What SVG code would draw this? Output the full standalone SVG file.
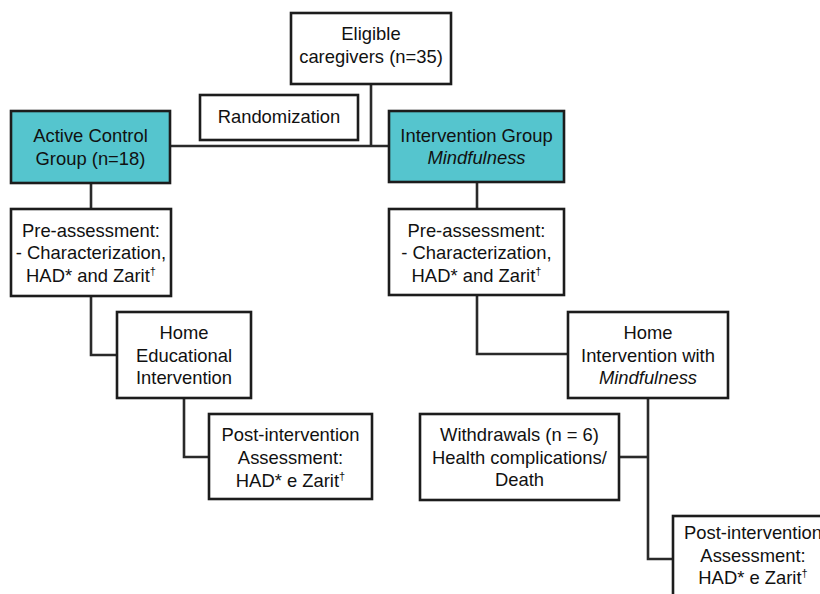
<svg xmlns="http://www.w3.org/2000/svg" width="820" height="594" viewBox="0 0 820 594">
<style>
.box{fill:#fff;stroke:#1c1c1c;stroke-width:2.6}
.teal{fill:#55C5CE}
.c{fill:none;stroke:#2a2a2a;stroke-width:2.6}
text{font-family:"Liberation Sans",Arial,sans-serif;font-size:18.4px;fill:#111;text-anchor:middle}
.i{font-style:italic}
.sup{font-size:11px}
</style>
<rect width="820" height="594" fill="#fff"/>
<g id="connectors">
<polyline class="c" points="371,84 371,146"/>
<polyline class="c" points="170,146 389,146"/>
<polyline class="c" points="91,183 91,209"/>
<polyline class="c" points="477,182 477,209"/>
<polyline class="c" points="91,296 91,355 117,355"/>
<polyline class="c" points="184,398 184,457 209,457"/>
<polyline class="c" points="477,295 477,354 568,354"/>
<polyline class="c" points="648,398 648,559 673,559"/>
<polyline class="c" points="619,457 648,457"/>
</g>
<g id="eligible">
<rect class="box" x="291" y="13" width="160" height="71"/>
<text x="371" y="40">Eligible</text>
<text x="371" y="62.7">caregivers (n=35)</text>
</g>
<g id="randomization">
<rect class="box" x="200" y="95" width="158" height="45"/>
<text x="279" y="122.7">Randomization</text>
</g>
<g id="active-control">
<rect class="box teal" x="11" y="111" width="159" height="72"/>
<text x="90.5" y="141.7">Active Control</text>
<text x="90.5" y="165">Group (n=18)</text>
</g>
<g id="intervention-group">
<rect class="box teal" x="389" y="111" width="175" height="71"/>
<text x="476.5" y="141.7">Intervention Group</text>
<text x="476.5" y="164.3" class="i">Mindfulness</text>
</g>
<g id="pre-left">
<rect class="box" x="11" y="209" width="160" height="87"/>
<text x="91" y="236.7">Pre-assessment:</text>
<text x="91" y="259.3">- Characterization,</text>
<text x="91" y="281.7">HAD* and Zarit<tspan class="sup" dy="-7">†</tspan></text>
</g>
<g id="pre-right">
<rect class="box" x="389" y="209" width="175" height="86"/>
<text x="476.5" y="236.7">Pre-assessment:</text>
<text x="476.5" y="259">- Characterization,</text>
<text x="476.5" y="281.7">HAD* and Zarit<tspan class="sup" dy="-7">†</tspan></text>
</g>
<g id="home-educational">
<rect class="box" x="117" y="312" width="134" height="86"/>
<text x="184" y="339.3">Home</text>
<text x="184" y="361.7">Educational</text>
<text x="184" y="384.3">Intervention</text>
</g>
<g id="home-mindfulness">
<rect class="box" x="568" y="312" width="160" height="86"/>
<text x="648" y="339.3">Home</text>
<text x="648" y="362.3">Intervention with</text>
<text x="648" y="384.3" class="i">Mindfulness</text>
</g>
<g id="post-left">
<rect class="box" x="209" y="414" width="163" height="85"/>
<text x="290.5" y="440.7">Post-intervention</text>
<text x="290.5" y="464">Assessment:</text>
<text x="290.5" y="486.7">HAD* e Zarit<tspan class="sup" dy="-7">†</tspan></text>
</g>
<g id="withdrawals">
<rect class="box" x="420" y="414" width="199" height="86"/>
<text x="519.5" y="441">Withdrawals (n = 6)</text>
<text x="519.5" y="463.5">Health complications/</text>
<text x="519.5" y="486">Death</text>
</g>
<g id="post-right">
<rect class="box" x="673" y="516" width="163" height="90"/>
<text x="753" y="539.3">Post-intervention</text>
<text x="753" y="562.3">Assessment:</text>
<text x="753" y="584.3">HAD* e Zarit<tspan class="sup" dy="-7">†</tspan></text>
</g>
</svg>
